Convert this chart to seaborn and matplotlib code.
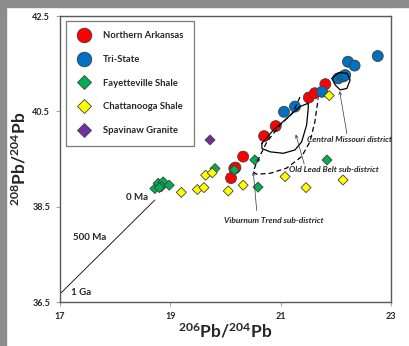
import numpy as np
import pandas as pd
import seaborn as sns
import matplotlib.pyplot as plt
from matplotlib.lines import Line2D
from matplotlib.patches import Rectangle

# ---- data ----
groups = ['Northern Arkansas', 'Tri-State', 'Fayetteville Shale',
          'Chattanooga Shale', 'Spavinaw Granite']
colors = ['#FF0000', '#0070C0', '#00B050', '#FFFF00', '#7030A0']
shapes = ['o', 'o', 'D', 'D', 'D']
sizes = [62, 62, 26, 26, 26]

na_x = [20.10, 20.16, 20.18, 20.32, 20.70, 20.91, 21.51, 21.62, 21.81]
na_y = [39.10, 39.30, 39.32, 39.55, 39.98, 40.19, 40.79, 40.88, 41.07]

ts_x = [21.06, 21.26, 21.75, 22.04, 22.13, 22.17, 22.22, 22.34, 22.76]
ts_y = [40.49, 40.60, 40.91, 41.19, 41.23, 41.26, 41.54, 41.46, 41.66]

fs_x = [18.72, 18.78, 18.87, 18.84, 18.98, 18.80, 19.81, 20.16, 20.53, 20.59, 21.84]
fs_y = [38.88, 38.99, 39.02, 38.92, 38.95, 38.90, 39.30, 39.27, 39.48, 38.91, 39.48]

cs_x = [19.20, 19.49, 19.61, 19.64, 19.76, 20.05, 20.32, 21.08, 21.46, 21.88, 22.13]
cs_y = [38.80, 38.86, 38.90, 39.16, 39.21, 38.83, 38.95, 39.13, 38.90, 40.83, 39.06]

sg_x = [19.72]
sg_y = [39.90]

# growth curve and its age labels
curve_x = [17.01, 18.72]
curve_y = [36.68, 38.64]
age_labels = ['0 Ma', '500 Ma', '1 Ga']
age_x = [18.39, 17.54, 17.38]
age_y = [38.70, 37.86, 36.69]

# district outlines
cm_x = [20.66, 20.87, 21.11, 21.35, 21.50, 21.50, 21.47, 21.38, 21.26, 21.05, 20.81, 20.66, 20.66]
cm_y = [39.83, 40.11, 40.35, 40.60, 40.67, 40.56, 40.21, 39.86, 39.69, 39.62, 39.65, 39.72, 39.83]
cm2_x = [21.93, 22.05, 22.20, 22.26, 22.20, 22.08, 21.99, 21.93]
cm2_y = [41.19, 41.31, 41.30, 41.16, 40.98, 40.95, 41.05, 41.19]
vt_x = [21.35, 21.23, 20.99, 20.75, 20.57, 20.50, 20.57, 20.81, 21.11, 21.38, 21.53, 21.62, 21.68]
vt_y = [40.80, 40.49, 40.21, 39.86, 39.44, 39.23, 39.18, 39.20, 39.31, 39.55, 39.86, 40.28, 40.77]

# district labels: text, text position, arrow tip
dist_labels = ['Central Missouri district', 'Old Lead Belt sub-district',
               'Viburnum Trend sub-district']
dist_tx = [21.48, 21.15, 19.97]
dist_ty = [39.90, 39.27, 38.22]
arrow_from_x = [22.21, 21.44, 20.57]
arrow_from_y = [39.97, 39.34, 38.36]
arrow_to_x = [22.06, 21.26, 20.50]
arrow_to_y = [40.98, 40.07, 39.29]

xs = [na_x, ts_x, fs_x, cs_x, sg_x]
ys = [na_y, ts_y, fs_y, cs_y, sg_y]
df = pd.concat([pd.DataFrame({'x': x, 'y': y, 'group': g})
                for g, x, y in zip(groups, xs, ys)], ignore_index=True)

# ---- style ----
sns.set_style('white')
plt.rcParams['font.family'] = ['Lato', 'DejaVu Sans']
plt.rcParams['font.weight'] = 'bold'
plt.rcParams['mathtext.fontset'] = 'custom'
plt.rcParams['mathtext.rm'] = 'Lato:bold'
plt.rcParams['mathtext.it'] = 'Lato:bold:italic'
plt.rcParams['mathtext.bf'] = 'Lato:bold'

fig = plt.figure(figsize=(4.09, 3.46), dpi=100)
fig.patch.set_facecolor('white')
# grey frame strips of the slide
fig.patches.append(Rectangle((0, 0), 6 / 409, 1, transform=fig.transFigure,
                             color='#8c8c8c', zorder=-10))
fig.patches.append(Rectangle((0, 1 - 7 / 346), 1, 7 / 346, transform=fig.transFigure,
                             color='#8c8c8c', zorder=-10))
ax = fig.add_axes([60 / 409, 1 - 302 / 346, 331 / 409, 286 / 346])

sns.scatterplot(data=df, x='x', y='y', hue='group', style='group', size='group',
                palette=dict(zip(groups, colors)),
                markers=dict(zip(groups, shapes)),
                sizes=dict(zip(groups, sizes)),
                edgecolor='#404040', linewidth=0.6, legend=False, ax=ax, zorder=3)

ax.plot(curve_x, curve_y, color='black', lw=0.6)
for t, x, y in zip(age_labels, age_x, age_y):
    ax.text(x, y, t, ha='center', va='center', fontsize=7, fontweight='bold')

ax.plot(cm_x, cm_y, color='black', lw=0.9, zorder=4)
ax.plot(cm2_x, cm2_y, color='black', lw=0.9, zorder=4)
ax.plot(vt_x, vt_y, color='black', lw=0.9, ls=(0, (4, 2.5)), zorder=4)

for t, tx, ty, fx, fy, hx, hy in zip(dist_labels, dist_tx, dist_ty, arrow_from_x,
                                     arrow_from_y, arrow_to_x, arrow_to_y):
    ax.text(tx, ty, t, ha='left', va='center', fontsize=6,
            fontweight='bold', fontstyle='italic')
    ax.annotate('', xy=(hx, hy), xytext=(fx, fy),
                arrowprops=dict(arrowstyle='->', lw=0.5, color='#333333',
                                mutation_scale=5), zorder=5)

ax.set_xlim(17, 23)
ax.set_ylim(36.5, 42.5)
ax.set_xticks([17, 19, 21, 23])
ax.set_yticks([36.5, 38.5, 40.5, 42.5])
ax.set_yticklabels(['36.5', '38.5', '40.5', '42.5'])
ax.tick_params(axis='both', labelsize=6.5, length=3, width=0.8, color='#a6a6a6',
               pad=4, bottom=True, left=True)
for lab in ax.get_xticklabels() + ax.get_yticklabels():
    lab.set_fontweight('bold')
for s in ax.spines.values():
    s.set_color('#595959')
    s.set_linewidth(1.0)

ax.set_xlabel('$^{206}$Pb/$^{204}$Pb', fontsize=12.5, fontweight='bold', labelpad=1)
ax.set_ylabel('$^{208}$Pb/$^{204}$Pb', fontsize=12.5, fontweight='bold', labelpad=3)

handles = [Line2D([], [], ls='', marker=m, markersize=(10.5 if m == 'o' else 7.2),
                  markerfacecolor=c, markeredgecolor='#404040', markeredgewidth=0.6)
           for m, c in zip(shapes, colors)]
leg = ax.legend(handles, groups, loc='upper left', bbox_to_anchor=(0.017, 0.984),
                borderaxespad=0, fontsize=6.8, labelspacing=1.55, handlelength=1.5,
                handletextpad=1.3, borderpad=1.15, frameon=True, fancybox=False)
leg.get_frame().set_edgecolor('#595959')
leg.get_frame().set_linewidth(0.9)
for t in leg.get_texts():
    t.set_fontweight('bold')

fig.savefig('out.png', dpi=100)
